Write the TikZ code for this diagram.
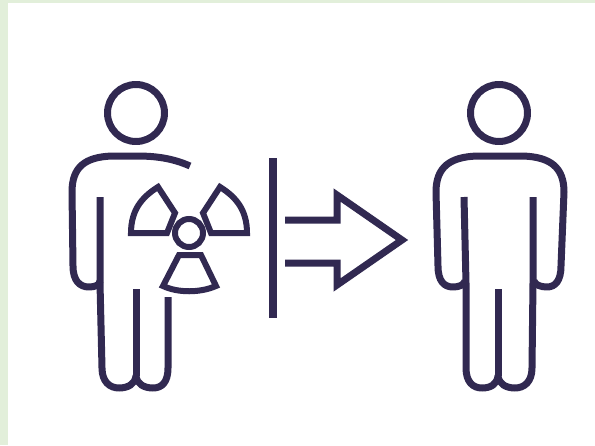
\documentclass[tikz,border=0pt]{standalone}
\definecolor{ink}{HTML}{312951}
\definecolor{edge}{HTML}{E2EFDA}
\tikzset{icon/.style={draw=ink,line width=7pt,line join=round,line cap=butt,fill=none},
blade/.style={draw=ink,line width=6pt,line join=miter,miter limit=3,fill=none}}
\begin{document}
\begin{tikzpicture}[x=1pt,y=-1pt]
\useasboundingbox (0,0) rectangle (595,445);
\fill[white] (0,0) rectangle (595,445);
\fill[edge] (0,0) rectangle (595,3);
\fill[edge] (0,0) rectangle (8,445);
% left person
\draw[icon] (136,113) circle (28.5);
\draw[icon] (190,166) .. controls (172,158) and (155,156) .. (136,156) -- (112,156)
  .. controls (85,157) and (72,167) .. (72,192) -- (73,266)
  .. controls (73,281) and (80,287) .. (89,287) .. controls (95,287) and (100,285) .. (100,281);
\draw[icon] (100,197) -- (100,283) -- (102,368) .. controls (102,382) and (110,388) .. (119,388)
  .. controls (128,388) and (135,384) .. (136,376) .. controls (137,384) and (144,388) .. (153,388)
  .. controls (162,388) and (168,382) .. (168,368) -- (168,297);
\draw[icon] (136,289) -- (136,376);
% radiation sign
\draw[blade] (189,233) circle (14);
\draw[blade] (131,233) -- (167,233) -- (175,213) -- (158,187) .. controls (142,197) and (131,210) .. (131,233) -- cycle;
\draw[blade] (247,233) -- (211,233) -- (203,213) -- (220,187) .. controls (236,197) and (247,210) .. (247,233) -- cycle;
\draw[blade] (163,286) -- (179,255) -- (201,255) -- (216,286) .. controls (200,293) and (178,293) .. (163,286) -- cycle;
% barrier and arrow
\draw[icon,line width=8pt] (273,158) -- (273,318);
\draw[icon,line join=miter,miter limit=4] (285,220) -- (337,220) -- (337,195) -- (402,240) -- (337,285) -- (337,263) -- (285,263);
% right person
\draw[icon] (499,113) circle (28.5);
\draw[icon] (465,281) .. controls (464,285) and (459,287) .. (453,287) .. controls (444,287) and (438,281) .. (438,266)
  -- (436,192) .. controls (436,167) and (450,157) .. (477,156) -- (523,156)
  .. controls (550,157) and (564,167) .. (564,192) -- (561,266)
  .. controls (561,281) and (555,287) .. (547,287) .. controls (541,287) and (535,285) .. (534,281);
\draw[icon] (464,197) -- (466,283) -- (466,368) .. controls (466,382) and (473,388) .. (482,388)
  .. controls (491,388) and (497,384) .. (498,376) .. controls (499,384) and (506,388) .. (515,388)
  .. controls (524,388) and (532,382) .. (532,368) -- (533,283) -- (533,197);
\draw[icon] (498,289) -- (498,376);
\end{tikzpicture}
\end{document}
